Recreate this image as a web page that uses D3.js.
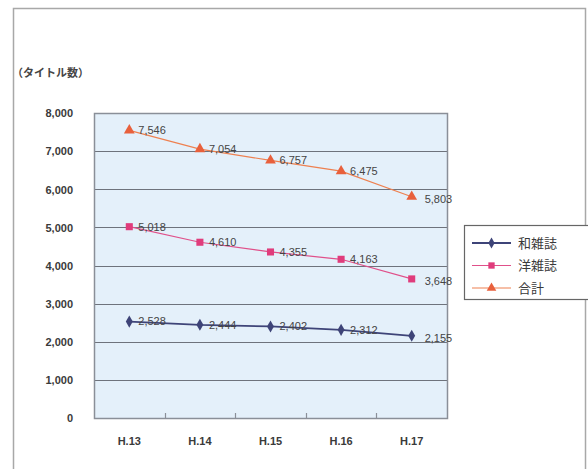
<!DOCTYPE html>
<html><head><meta charset="utf-8">
<script src="https://cdn.jsdelivr.net/npm/d3@7"></script>
<style>
body{margin:0;background:#fff;}
svg{display:block;font-family:"Liberation Sans",Arial,"Noto Sans CJK JP",sans-serif;}
</style></head>
<body><svg id="c" width="588" height="469"></svg>
<script>
const categories = ["H.13","H.14","H.15","H.16","H.17"];
const wa = [2528, 2444, 2402, 2312, 2155];
const yo = [5018, 4610, 4355, 4163, 3648];
const total = [7546, 7054, 6757, 6475, 5803];
const seriesNames = ["和雑誌","洋雑誌","合計"];
const yTicks = [0,1000,2000,3000,4000,5000,6000,7000,8000];

const svg = d3.select("#c");
const L=94, R=447, T=113, B=418;
const x = d3.scaleBand().domain(categories).range([L,R]);
const y = d3.scaleLinear().domain([0,8000]).range([B,T]);
const fmt = d3.format(",");

// outer frame
svg.append("rect").attr("x",13.5).attr("y",8.5).attr("width",572).attr("height",470)
  .attr("fill","none").attr("stroke","#a8a8a8").attr("stroke-width",1.5);

// plot bg
svg.append("rect").attr("x",L).attr("y",T).attr("width",R-L).attr("height",B-T)
  .attr("fill","#e4f0fa");
// gridlines
svg.append("g").selectAll("line").data(yTicks.filter(d=>d>0&&d<8000)).join("line")
  .attr("x1",L).attr("x2",R).attr("y1",d=>Math.round(y(d))+0.5).attr("y2",d=>Math.round(y(d))+0.5)
  .attr("stroke","#6e737c").attr("stroke-width",1.2);
svg.append("rect").attr("x",L+0.5).attr("y",T+0.5).attr("width",R-L).attr("height",B-T)
  .attr("fill","none").attr("stroke","#8a8f98").attr("stroke-width",1.5);

// y axis labels
const yAxis = d3.axisLeft(y).tickValues(yTicks).tickFormat(fmt).tickSize(0).tickPadding(0);
const ga = svg.append("g").attr("transform","translate(73,0)").call(yAxis);
ga.select(".domain").remove();
ga.selectAll("text").attr("font-size",11).attr("fill","#3a3a3a").attr("font-weight","bold").attr("dy","0.35em").attr("font-family","Liberation Sans, Arial");

// x axis
const xAxis = d3.axisBottom(x).tickSize(0).tickPadding(0);
const gx = svg.append("g").attr("transform",`translate(0,${B+23})`).call(xAxis);
gx.select(".domain").remove();
gx.selectAll("text").attr("font-size",11).attr("fill","#3a3a3a").attr("font-weight","bold").attr("dy","0.35em").attr("font-family","Liberation Sans, Arial");
// category boundary ticks
svg.append("g").selectAll("line").data(categories.slice(1)).join("line")
  .attr("x1",d=>Math.round(x(d))+0.5).attr("x2",d=>Math.round(x(d))+0.5)
  .attr("y1",B).attr("y2",B-5).attr("stroke","#8a8f98").attr("stroke-width",1.2);

// axis title
svg.append("text").attr("x",16).attr("y",77).attr("font-size",11).attr("fill","#444").attr("font-weight","bold")
  .attr("font-family","Noto Sans CJK JP").text("（タイトル数）").attr("dx",-4);

const series = [
  {name:seriesNames[0], vals:wa, line:"#3e4478", fill:"#3e4478", sym:d3.symbolDiamond, size:42, lw:1.8},
  {name:seriesNames[1], vals:yo, line:"#e0508a", fill:"#e03c7c", sym:d3.symbolSquare, size:50, lw:1.2},
  {name:seriesNames[2], vals:total, line:"#ee8050", fill:"#e8603c", sym:d3.symbolTriangle, size:50, lw:1.2},
];
const cx = c => x(c)+x.bandwidth()/2;
const line = d3.line().x((d,i)=>cx(categories[i])).y(d=>y(d));
series.forEach(s=>{
  svg.append("path").attr("d",line(s.vals)).attr("fill","none").attr("stroke",s.line).attr("stroke-width",s.lw);
  svg.append("g").selectAll("path").data(s.vals).join("path")
    .attr("transform",(d,i)=>`translate(${cx(categories[i])},${y(d)})`)
    .attr("d",d3.symbol(s.sym,s.size)).attr("fill",s.fill);
  svg.append("g").selectAll("text").data(s.vals).join("text")
    .attr("x",(d,i)=>cx(categories[i])+(i===4?13:9)).attr("y",(d,i)=>y(d)+(i===4?2:0)).attr("dy","0.35em")
    .attr("font-size",11).attr("fill","#444").attr("font-family","Liberation Sans, Arial")
    .text(d=>fmt(d));
});

// legend
svg.append("rect").attr("x",464.5).attr("y",225.5).attr("width",130).attr("height",74)
  .attr("fill","#fff").attr("stroke","#666").attr("stroke-width",1.2);
series.forEach((s,i)=>{
  const ly = 243 + i*22.5;
  svg.append("line").attr("x1",472).attr("x2",511).attr("y1",ly).attr("y2",ly).attr("stroke",s.line).attr("stroke-width",s.lw);
  svg.append("path").attr("transform",`translate(491.5,${ly})`).attr("d",d3.symbol(s.sym,s.size*0.8)).attr("fill",s.fill);
  svg.append("text").attr("x",518).attr("y",ly).attr("dy","0.35em").attr("font-size",13).attr("fill","#3a3a3a")
    .attr("font-family","Noto Sans CJK JP").text(s.name);
});
</script></body></html>
